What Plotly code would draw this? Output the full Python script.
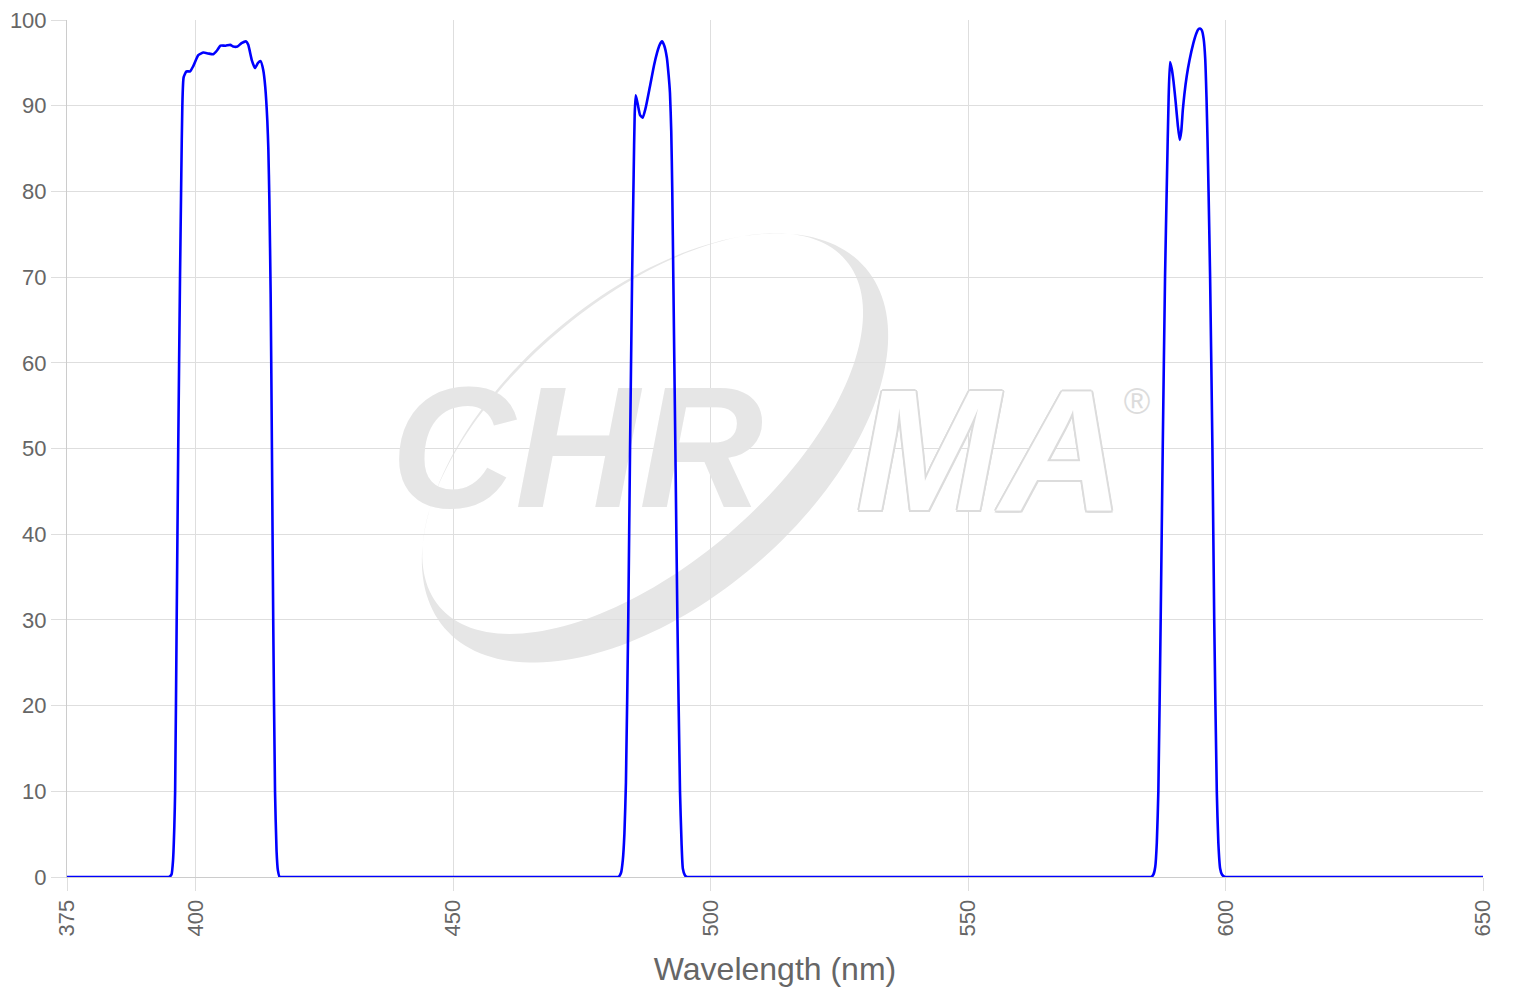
import math
import plotly.graph_objects as go

# ---- data ----
wavelength = [
    375, 390, 394.2, 394.8, 395.3, 395.6, 395.85, 396.0, 396.3, 396.6, 396.95, 397.2, 397.4, 397.65,
    398.2, 398.9, 399.5, 400.5, 401.5, 402.4, 403.4, 404.2, 404.8, 405.8, 406.7, 407.3,
    408.1, 408.9, 409.8, 410.2, 410.9, 411.5, 412.1, 412.6, 413.1, 413.5, 413.9, 414.1,
    414.3, 414.55, 414.8, 415.05, 415.4, 415.7, 415.95, 416.3, 417.0, 418.0, 450.0,
    480.5, 481.5, 482.1, 482.6, 482.95, 483.25, 483.55, 484.0, 484.35, 484.75, 485.05, 485.25, 485.45,
    485.8, 486.3, 486.8, 487.4, 488.2, 489.0, 489.6, 490.1, 490.55, 491.0, 491.5, 491.85,
    492.1, 492.35, 492.55, 492.75, 493.15, 493.55, 494.05, 494.35, 494.6, 495.0, 495.4,
    496.0, 497.0, 540.0, 584.0, 585.0,
    585.6, 586.0, 586.35, 586.65, 586.95, 587.4, 587.8, 588.25, 588.6, 588.95, 589.22,
    589.55, 589.9, 590.3, 590.75, 591.1, 591.4, 591.7, 592.0, 592.45, 593.0, 593.75,
    594.3, 594.7, 595.05, 595.4, 595.75, 596.05, 596.3, 596.5, 596.7, 597.0, 597.45,
    597.8, 598.3, 598.6, 598.95, 599.3, 599.9, 600.5, 601.5, 625.0, 650,
]
transmission = [
    0, 0, 0, 0, 0.3, 2, 6, 10, 30, 50, 70, 82, 90, 93.3,
    94.0, 94.0, 94.6, 95.9, 96.2, 96.1, 96.0, 96.5, 97.0, 97.0, 97.1, 96.9,
    96.9, 97.3, 97.5, 97.1, 95.3, 94.4, 95.0, 95.2, 94.2, 92.2, 88.3, 85,
    79, 68, 50, 30, 10, 3, 0.8, 0, 0, 0, 0,
    0, 0, 0, 0.5, 2, 5, 11, 30, 50, 70, 82, 89, 91.2,
    90.3, 88.9, 88.6, 89.8, 92.2, 94.7, 96.2, 97.1, 97.5, 97.0, 95.6, 93.5,
    91.5, 87, 80, 70, 50, 30, 10, 4, 1, 0.2, 0,
    0, 0, 0, 0, 0,
    0, 0.3, 1.2, 4, 10, 30, 50, 70, 81, 91, 95.1,
    94.3, 92.8, 90.5, 87.6, 86.0, 87.0, 89.5, 91.3, 93.4, 95.3, 97.3,
    98.4, 98.9, 99.0, 98.8, 97.8, 95.5, 91, 86, 80, 70, 50,
    30, 10, 4, 1, 0.3, 0, 0, 0, 0, 0,
]
x_tickvals = [375, 400, 450, 500, 550, 600, 650]
x_ticktext = ["375", "400", "450", "500", "550", "600", "650"]
y_tickvals = [0, 10, 20, 30, 40, 50, 60, 70, 80, 90, 100]
x_title = "Wavelength (nm)"
watermark_filled = "CHR"
watermark_outline = "MA"
watermark_mark = "®"

X_MIN, X_MAX = 375, 650
Y_MIN, Y_MAX = 0, 100

# ---- layout geometry (the page adds an 8px body margin) ----
PAGE_OFF = 8
W, H = 1520 - PAGE_OFF, 1000 - PAGE_OFF
PLOT_L, PLOT_T, PLOT_R, PLOT_B = 67, 20, 1483, 877   # plot area in window pixels
ML = PLOT_L - PAGE_OFF
MT = PLOT_T - PAGE_OFF
MR = (W + PAGE_OFF) - PLOT_R
MB = (H + PAGE_OFF) - PLOT_B
PW, PH = PLOT_R - PLOT_L, PLOT_B - PLOT_T

FONT = "Liberation Sans, Arial, Helvetica, sans-serif"
TXT = "#666666"
GRID = "#dedede"
AXLINE = "#cccccc"
WM = "#e6e6e6"


def to_paper(px, py):
    return (px - PLOT_L) / PW, (PLOT_B - py) / PH


def data_x(px):
    return X_MIN + (px - PLOT_L) / PW * (X_MAX - X_MIN)


def data_y(py):
    return Y_MIN + (PLOT_B - py) / PH * (Y_MAX - Y_MIN)


def ellipse_path(cx, cy, a, b, ang_deg, n=180, reverse=False):
    ang = math.radians(ang_deg)
    pts = []
    for i in range(n):
        t = 2 * math.pi * i / n
        if reverse:
            t = -t
        ex, ey = a * math.cos(t), b * math.sin(t)
        px = cx + ex * math.cos(ang) - ey * math.sin(ang)
        py = cy - (ex * math.sin(ang) + ey * math.cos(ang))
        pts.append(to_paper(px, py))
    return "M " + " L ".join(f"{x:.5f},{y:.5f}" for x, y in pts) + " Z"


# crescent ring of the watermark logo (outer minus shifted inner ellipse)
RING_ANG = 40.5
RING_CX, RING_CY = 655, 448
outer = ellipse_path(RING_CX, RING_CY, 277, 154, RING_ANG)
sh = 19
icx = RING_CX - math.sin(math.radians(RING_ANG)) * sh
icy = RING_CY - math.cos(math.radians(RING_ANG)) * sh
inner = ellipse_path(icx, icy, 267, 132, RING_ANG, reverse=True)
ring_path = outer + " " + inner

fig = go.Figure()

# watermark text (drawn first so the data line sits on top)
fig.add_trace(go.Scatter(
    x=[data_x(577)], y=[data_y(464)],
    mode="text", text=[watermark_filled], textposition="middle center",
    textfont=dict(family=FONT, size=172, color=WM, weight="bold", style="italic"),
    hoverinfo="skip", showlegend=False,
))
outline_shadow = ("#dcdcdc 2px 0px 0px, #dcdcdc -2px 0px 0px, #dcdcdc 0px 2px 0px, "
                  "#dcdcdc 0px -2px 0px, #dcdcdc 1.5px 1.5px 0px, #dcdcdc -1.5px -1.5px 0px, "
                  "#dcdcdc 1.5px -1.5px 0px, #dcdcdc -1.5px 1.5px 0px")
fig.add_trace(go.Scatter(
    x=[data_x(990)], y=[data_y(467)],
    mode="text", text=[watermark_outline], textposition="middle center",
    textfont=dict(family=FONT, size=172, color="#ffffff", weight="bold", style="italic",
                  shadow=outline_shadow),
    hoverinfo="skip", showlegend=False,
))
fig.add_trace(go.Scatter(
    x=[data_x(1137)], y=[data_y(405)],
    mode="text", text=[watermark_mark], textposition="middle center",
    textfont=dict(family=FONT, size=36, color="#dcdcdc"),
    hoverinfo="skip", showlegend=False,
))

# transmission curve
fig.add_trace(go.Scatter(
    x=wavelength, y=transmission, mode="lines",
    line=dict(color="#0000ff", width=2.6, shape="spline", smoothing=0.5),
    hoverinfo="x+y", showlegend=False,
))

fig.add_shape(type="path", path=ring_path, xref="paper", yref="paper",
              fillcolor=WM, line=dict(width=0), layer="below")

fig.update_layout(
    width=W, height=H,
    margin=dict(l=ML, r=MR, t=MT, b=MB, autoexpand=False),
    paper_bgcolor="white", plot_bgcolor="white",
    font=dict(family=FONT, color=TXT),
    showlegend=False,
    xaxis=dict(
        range=[X_MIN, X_MAX], tickmode="array", tickvals=x_tickvals, ticktext=x_ticktext,
        tickangle=-90, tickfont=dict(size=22, color=TXT),
        showgrid=True, gridcolor=GRID, gridwidth=1,
        ticks="outside", ticklen=13, tickcolor=GRID, tickwidth=1,
        showline=True, linecolor=AXLINE, linewidth=1, mirror=False,
        zeroline=False, automargin=False, ticklabeloverflow="allow",
        title=dict(text=x_title, font=dict(size=32, color=TXT), standoff=22),
    ),
    yaxis=dict(
        range=[Y_MIN, Y_MAX], tickmode="array", tickvals=y_tickvals,
        tickfont=dict(size=22, color=TXT),
        showgrid=True, gridcolor=GRID, gridwidth=1,
        ticks="outside", ticklen=15, tickcolor=GRID, tickwidth=1,
        showline=True, linecolor=AXLINE, linewidth=1,
        zeroline=False, automargin=False, ticklabeloverflow="allow",
    ),
)

fig.write_html("out.html")
